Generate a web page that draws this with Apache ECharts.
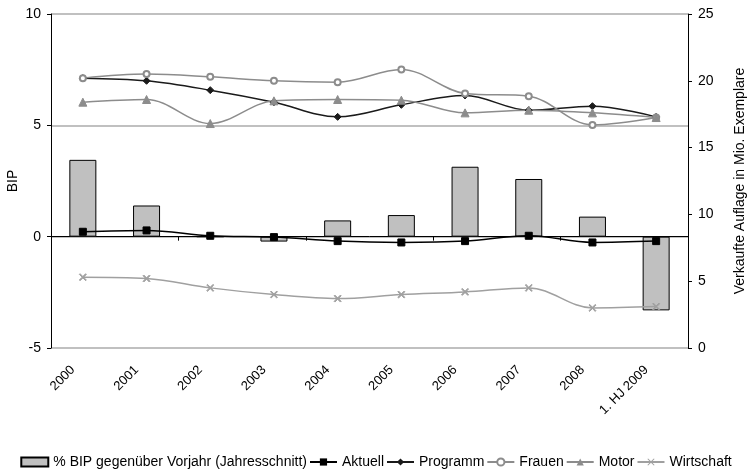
<!DOCTYPE html>
<html>
<head>
<meta charset="utf-8">
<script src="https://cdn.jsdelivr.net/npm/echarts@6/dist/echarts.min.js"></script>
<style>
  html, body { margin: 0; padding: 0; background: #fff; }
  #chart { width: 752px; height: 475px; }
</style>
</head>
<body>
<div id="chart"></div>
<script>
const years = ["2000", "2001", "2002", "2003", "2004", "2005", "2006", "2007", "2008", "1. HJ 2009"];

// BIP, left axis
const bip = [3.45, 1.4, 0, -0.22, 0.73, 0.97, 3.14, 2.59, 0.9, -3.31];

// sales in million copies, right axis
const aktuell = [8.7, 8.8, 8.4, 8.3, 8.0, 7.9, 8.0, 8.4, 7.9, 8.0];
const programm = [20.2, 20.0, 19.3, 18.4, 17.3, 18.2, 18.9, 17.8, 18.1, 17.3];
const frauen = [20.2, 20.5, 20.3, 20.0, 19.9, 20.85, 19.05, 18.85, 16.7, 17.25];
const motor = [18.4, 18.6, 16.8, 18.5, 18.6, 18.55, 17.6, 17.8, 17.6, 17.25];
const wirtschaft = [5.3, 5.2, 4.5, 4.0, 3.7, 4.0, 4.2, 4.5, 3.0, 3.1];

const leftTicks = { min: -5, max: 10, interval: 5 };
const rightTicks = { min: 0, max: 25, interval: 5 };

const crossPath = "path://M1,0L5,4L9,0L10,1L6,5L10,9L9,10L5,6L1,10L0,9L4,5L0,1Z";
const font = "'Liberation Sans', Arial, sans-serif";

function lineSeries(name, data, color, symbol, size) {
  return {
    name: name,
    type: "line",
    yAxisIndex: 1,
    smooth: 0.35,
    data: data,
    symbol: symbol,
    symbolSize: size,
    showAllSymbol: true,
    lineStyle: { color: color, width: 1.5 },
    itemStyle: { color: color, borderColor: color },
    z: 3,
  };
}

let chart = echarts.init(document.getElementById("chart"));
let option = {
  animation: false,
  textStyle: { fontFamily: font, color: "#000" },
  grid: { left: 51, right: 64, top: 14, bottom: 127, containLabel: false, outerBoundsMode: "none" },
  legend: {
    bottom: 1,
    left: "center",
    itemWidth: 27,
    itemHeight: 9,
    itemGap: 2,
    textStyle: { fontSize: 14, color: "#000", fontFamily: font },
    data: [
      { name: "% BIP gegenüber Vorjahr (Jahresschnitt)", icon: "rect" },
      "Aktuell", "Programm", "Frauen", "Motor", "Wirtschaft",
    ],
  },
  xAxis: [
    {
      type: "category",
      data: years,
      position: "bottom",
      axisLine: { show: false, onZero: false },
      axisTick: { show: false },
      axisLabel: { rotate: 45, fontSize: 13, color: "#000", margin: 10, interval: 0, padding: [0, 14, 0, 0] },
    },
    {
      type: "category",
      data: years,
      position: "top",
      axisLine: { show: true, onZero: true, onZeroAxisIndex: 0, lineStyle: { color: "#000", width: 1 } },
      axisTick: { show: true, inside: true, length: 4, lineStyle: { color: "#000" } },
      axisLabel: { show: false },
    },
  ],
  yAxis: [
    {
      type: "value",
      min: leftTicks.min,
      max: leftTicks.max,
      interval: leftTicks.interval,
      name: "BIP",
      nameLocation: "middle",
      nameRotate: 90,
      nameGap: 31,
      nameMoveOverlap: false,
      nameTextStyle: { fontSize: 14, color: "#000" },
      axisLine: { show: true, lineStyle: { color: "#000" } },
      axisTick: { show: true, length: 4, lineStyle: { color: "#000" } },
      axisLabel: { fontSize: 14, color: "#000", margin: 10 },
      splitLine: { show: true, lineStyle: { color: "#c0c0c0", width: 2 } },
    },
    {
      type: "value",
      min: rightTicks.min,
      max: rightTicks.max,
      interval: rightTicks.interval,
      position: "right",
      name: "Verkaufte Auflage in Mio. Exemplare",
      nameLocation: "middle",
      nameRotate: 90,
      nameGap: 45,
      nameMoveOverlap: false,
      nameTextStyle: { fontSize: 14, color: "#000" },
      axisLine: { show: true, lineStyle: { color: "#000" } },
      axisTick: { show: true, length: 4, lineStyle: { color: "#000" } },
      axisLabel: { fontSize: 14, color: "#000", margin: 10 },
      splitLine: { show: false },
    },
  ],
  series: [
    {
      name: "% BIP gegenüber Vorjahr (Jahresschnitt)",
      type: "bar",
      xAxisIndex: 0,
      yAxisIndex: 0,
      barWidth: 27,
      data: bip,
      itemStyle: { color: "#c0c0c0", borderColor: "#000", borderWidth: 1 },
      z: 2,
    },
    lineSeries("Aktuell", aktuell, "#000000", "rect", 7),
    lineSeries("Programm", programm, "#1a1a1a", "diamond", 7),
    lineSeries("Frauen", frauen, "#8c8c8c", "emptyCircle", 6),
    lineSeries("Motor", motor, "#8c8c8c", "triangle", 8),
    lineSeries("Wirtschaft", wirtschaft, "#a0a0a0", crossPath, 7),
  ],
};
option && chart.setOption(option);
</script>
</body>
</html>
